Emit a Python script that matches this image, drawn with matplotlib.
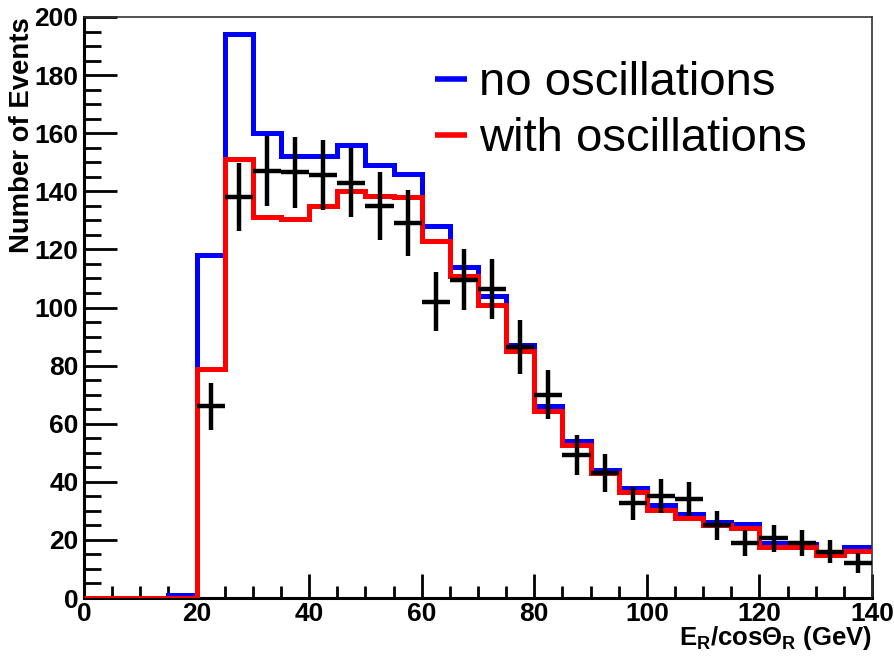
import numpy as np
import matplotlib
matplotlib.use('Agg')
import matplotlib.pyplot as plt
from matplotlib.ticker import MultipleLocator

plt.rcParams['font.family'] = ['Liberation Sans', 'DejaVu Sans']
plt.rcParams['mathtext.fontset'] = 'custom'
plt.rcParams['mathtext.rm'] = 'Liberation Sans:bold'
plt.rcParams['mathtext.it'] = 'Liberation Sans:bold'
plt.rcParams['mathtext.bf'] = 'Liberation Sans:bold'

# bin edges 0..140 in steps of 5
edges = np.arange(0, 145, 5)
centers = edges[:-1] + 2.5

no_osc = [0, 0, 0, 1, 118, 194, 160, 152, 152, 156, 149, 146, 128, 114,
          104, 87, 66, 54, 44, 38, 32, 29, 26, 25.5, 18.8, 18.5, 16, 17.7]
with_osc = [0, 0, 0, 0, 79, 151, 131, 130.5, 135, 140, 138.5, 138, 123, 110.8,
            101, 85, 64.5, 52.7, 43, 36.6, 30.3, 27.4, 25, 24, 17.7, 17.5, 14.8, 16.3]

# data points (from bin 20-25 onwards)
data_x = centers[4:]
data_y = [66, 138, 147, 146.5, 145.5, 143, 135, 129, 102, 109.5, 106.3, 86.3,
          70, 49.2, 43, 32.6, 35, 34, 25, 19, 20.5, 19, 16, 12]
data_err = [8.1, 11.7, 12.1, 12.1, 12.1, 12, 11.6, 11.4, 10.1, 10.5, 10.3, 9.3,
            8.4, 7, 6.6, 5.7, 5.9, 5.8, 5, 4.4, 4.5, 4.4, 4, 3.5]

fig = plt.figure(figsize=(8.94, 6.62), dpi=100)
ax = fig.add_axes([84/894, 1-598/662, 788/894, 581/662])

ax.stairs(no_osc, edges, color='#0000ff', lw=3.6, baseline=None, label='no oscillations', zorder=2)
ax.stairs(with_osc, edges, color='#ff0000', lw=3.6, baseline=None, label='with oscillations', zorder=3)
ax.errorbar(data_x, data_y, yerr=data_err, xerr=2.5, fmt='none', ecolor='black',
            elinewidth=3.2, capsize=0, zorder=4)

ax.set_xlim(0, 140)
ax.set_ylim(0, 200)
ax.xaxis.set_major_locator(MultipleLocator(20))
ax.xaxis.set_minor_locator(MultipleLocator(5))
ax.yaxis.set_major_locator(MultipleLocator(20))
ax.yaxis.set_minor_locator(MultipleLocator(5))
ax.tick_params(which='both', direction='in', top=False, right=False, width=2)
ax.tick_params(axis='y', which='major', length=24, pad=4)
ax.tick_params(axis='y', which='minor', length=12)
ax.tick_params(axis='x', which='major', length=17, pad=3)
ax.tick_params(axis='x', which='minor', length=9)
for lab in ax.get_xticklabels() + ax.get_yticklabels():
    lab.set_fontweight('bold')
    lab.set_fontsize(19)

ax.spines['left'].set_linewidth(2.2)
ax.spines['bottom'].set_linewidth(2.2)
ax.spines['top'].set_linewidth(1.2)
ax.spines['right'].set_linewidth(1.2)
ax.spines['top'].set_color('#333333')
ax.spines['right'].set_color('#333333')

ax.set_ylabel('Number of Events', fontsize=19.8, fontweight='bold', loc='top')
ax.yaxis.set_label_coords(-0.062, 1.0)
ax.set_xlabel(r'E$_{\rm R}$/cos$\Theta_{\rm R}$ (GeV)', fontsize=18.5, fontweight='bold', loc='right')
ax.xaxis.set_label_coords(1.0, -0.045)

leg = ax.legend(loc='upper left', bbox_to_anchor=(0.446, 0.924), frameon=False, fontsize=34,
                handlelength=0.66, handletextpad=0.26, labelspacing=0.26, borderpad=0,
                borderaxespad=0)
for h in leg.get_lines():
    h.set_linewidth(4)
    h.set_solid_capstyle('butt')

fig.savefig('out.png', dpi=100)
